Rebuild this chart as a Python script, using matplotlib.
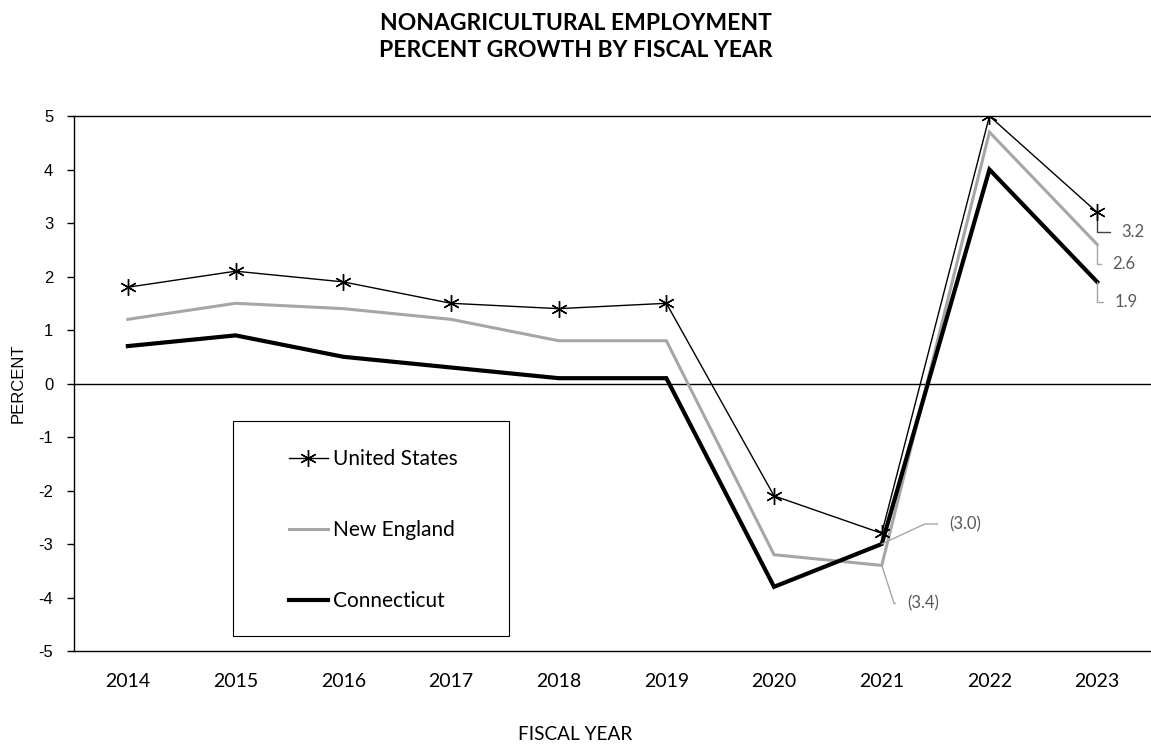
import matplotlib.pyplot as plt
from matplotlib.patches import Rectangle

plt.rcParams["axes.unicode_minus"] = False

years = ["2014", "2015", "2016", "2017", "2018", "2019", "2020", "2021", "2022", "2023"]
united_states = [1.8, 2.1, 1.9, 1.5, 1.4, 1.5, -2.1, -2.8, 5.0, 3.2]
new_england = [1.2, 1.5, 1.4, 1.2, 0.8, 0.8, -3.2, -3.4, 4.7, 2.6]
connecticut = [0.7, 0.9, 0.5, 0.3, 0.1, 0.1, -3.8, -3.0, 4.0, 1.9]

GRAY = "#a6a6a6"
LABEL = "#595959"
BODY = "Lato"
TICKS = "Liberation Sans"


def fmt(v):
    return f"({abs(v):.1f})" if v < 0 else f"{v:.1f}"


fig = plt.figure(figsize=(11.51, 7.44), dpi=100)
ax = fig.add_axes([0.0643, 0.125, 0.9357, 0.719])

x = list(range(len(years)))
ax.plot(x, connecticut, color="black", lw=3.0, solid_joinstyle="miter",
        label="Connecticut", zorder=3)
ax.plot(x, new_england, color=GRAY, lw=2.2, solid_joinstyle="miter",
        label="New England", zorder=2)
ax.plot(x, united_states, color="black", lw=1.0, marker=(6, 2, 0),
        markersize=12, markeredgewidth=1.0, label="United States", zorder=4)

ax.axhline(0, color="black", lw=1.0, zorder=1)

ax.set_xlim(-0.5, len(years) - 0.5)
ax.set_ylim(-5, 5)
ax.set_yticks(range(-5, 6))
ax.set_xticks(x)
ax.set_xticklabels(years, fontfamily=BODY, fontsize=14)
for t in ax.get_yticklabels():
    t.set_fontfamily(TICKS)
    t.set_fontsize(12)
ax.tick_params(axis="y", direction="out", length=5, width=1, pad=10)
ax.tick_params(axis="x", length=0, pad=16)
ax.spines["right"].set_visible(False)
for s in ("left", "bottom", "top"):
    ax.spines[s].set_linewidth(1.0)

# value labels with leader lines (pixel offsets)
last = len(years) - 1
labels = [
    (last, united_states[last], (24, -20), "#404040", 0),
    (last, new_england[last], (15, -20), GRAY, 0),
    (last, connecticut[last], (17, -20), GRAY, 0),
    (7, connecticut[7], (67, 20), GRAY, 25),
    (7, new_england[7], (25, -38), GRAY, -72),
]
for xi, v, off, col, ang in labels:
    if ang == 0:
        cs = "angle,angleA=0,angleB=90,rad=0"
    else:
        cs = f"angle,angleA=0,angleB={ang},rad=0"
    ax.annotate(fmt(v), xy=(xi, v), xytext=off, textcoords="offset pixels",
                ha="left", va="center", fontsize=12, fontfamily=BODY,
                color=LABEL,
                arrowprops=dict(arrowstyle="-", color=col, lw=1.0,
                                connectionstyle=cs, relpos=(0, 0.5),
                                shrinkA=6, shrinkB=0))

handles, names = ax.get_legend_handles_labels()
order = [2, 1, 0]
leg = ax.legend([handles[i] for i in order], [names[i] for i in order],
                loc="upper left", bbox_to_anchor=(289 / 1151, 1 - 449 / 744),
                bbox_transform=fig.transFigure, frameon=False,
                prop={"family": BODY, "size": 15}, labelspacing=2.45,
                handlelength=1.85, handletextpad=0.25, borderpad=0,
                borderaxespad=0)
fig.add_artist(Rectangle((233 / 1151, 1 - 636 / 744), 276 / 1151, 215 / 744,
                         transform=fig.transFigure, fill=False,
                         edgecolor="black", lw=0.8))

fig.text(0.5, 1 - 37 / 744, "NONAGRICULTURAL EMPLOYMENT\nPERCENT GROWTH BY FISCAL YEAR",
         ha="center", va="center", fontfamily=BODY, fontweight="bold",
         fontsize=16.5, linespacing=1.3)
fig.text(18 / 1151, 1 - 383 / 744, "PERCENT", rotation=90, ha="center",
         va="center", fontfamily=TICKS, fontsize=12)
fig.text(0.5, 1 - 735 / 744, "FISCAL YEAR", ha="center", va="center",
         fontfamily=BODY, fontsize=13.7)

fig.savefig("out.png", dpi=100)
